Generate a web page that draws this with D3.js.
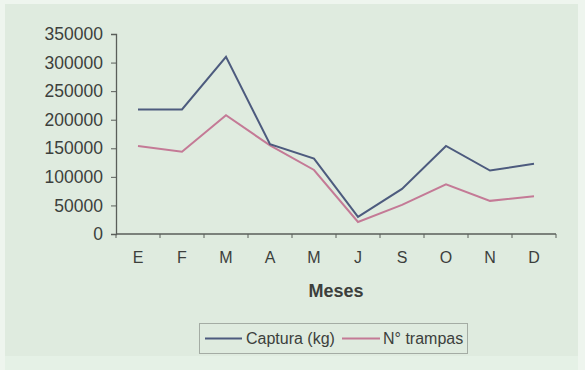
<!DOCTYPE html>
<html>
<head>
<meta charset="utf-8">
<script src="https://cdn.jsdelivr.net/npm/d3@7"></script>
<style>
  html, body { margin: 0; padding: 0; background: #eef5ee; }
  svg { display: block; }
  text { font-family: "Liberation Sans", Arial, sans-serif; fill: #3c3f3c; }
</style>
</head>
<body>
<svg id="chart" width="585" height="370"></svg>
<script>
// Monthly catch and trap counts
const months = ["E", "F", "M", "A", "M", "J", "S", "O", "N", "D"];
const captura = [218000, 218000, 310000, 157000, 132000, 30000, 79000, 154000, 111000, 123000];
const trampas = [154000, 144000, 208000, 155000, 112000, 21000, 51000, 87000, 58000, 66000];
const yTicks = [0, 50000, 100000, 150000, 200000, 250000, 300000, 350000];

const svg = d3.select("#chart");

// panel background
svg.append("rect").attr("x", 5).attr("y", 4).attr("width", 573).attr("height", 352)
  .attr("fill", "#dfebdf");
svg.append("rect").attr("x", 5).attr("y", 356).attr("width", 573).attr("height", 14)
  .attr("fill", "#e5f1e6");

const plot = { left: 116, right: 556, top: 34, bottom: 234 };

const x = d3.scaleBand().domain(d3.range(months.length))
  .range([plot.left, plot.right]);
const y = d3.scaleLinear().domain([0, 350000]).range([plot.bottom, plot.top]);

// y axis
const yAxis = svg.append("g").attr("transform", `translate(${plot.left},0)`)
  .call(d3.axisLeft(y).tickValues(yTicks).tickSize(5).tickPadding(8).tickFormat(d => String(d)));
yAxis.select(".domain").attr("stroke", "#5a5e5a").attr("stroke-width", 1.3);
yAxis.selectAll(".tick line").attr("stroke", "#5a5e5a");
yAxis.selectAll("text").attr("font-size", 17.5).attr("fill", "#3c3f3c")
  .style("font-family", "'Liberation Sans', Arial, sans-serif");

// x axis: ticks on category boundaries, labels centered in each band
const xAxisG = svg.append("g").attr("transform", `translate(0,${plot.bottom})`);
xAxisG.append("line").attr("x1", plot.left).attr("x2", plot.right)
  .attr("stroke", "#5a5e5a").attr("stroke-width", 1.3);
const bounds = d3.range(months.length + 1).map(i => i < months.length ? x(i) : plot.right);
xAxisG.selectAll(".bt").data(bounds).join("line")
  .attr("x1", d => d).attr("x2", d => d).attr("y1", 0).attr("y2", 4)
  .attr("stroke", "#5a5e5a");
xAxisG.selectAll(".lbl").data(months).join("text")
  .attr("x", (d, i) => x(i) + x.bandwidth() / 2).attr("y", 29)
  .attr("text-anchor", "middle").attr("font-size", 16).text(d => d);

svg.append("text").attr("x", (plot.left + plot.right) / 2).attr("y", 297)
  .attr("text-anchor", "middle").attr("font-size", 18).attr("font-weight", "bold")
  .text("Meses");

// series lines
const line = d3.line().x((d, i) => x(i) + x.bandwidth() / 2).y(d => y(d));
const series = [
  { name: "Captura (kg)", values: captura, color: "#4d5b7e" },
  { name: "N° trampas", values: trampas, color: "#c47a96" }
];
series.slice().reverse().forEach(s => {
  svg.append("path").datum(s.values).attr("d", line)
    .attr("fill", "none").attr("stroke", s.color).attr("stroke-width", 2)
    .attr("stroke-linejoin", "miter");
});

// legend
const lg = svg.append("g");
lg.append("rect").attr("x", 199.5).attr("y", 323.5).attr("width", 268).attr("height", 30)
  .attr("fill", "#dfebdf").attr("stroke", "#a4aca4").attr("stroke-width", 1);
const legendItems = [
  { s: series[0], x1: 205, x2: 242, tx: 246 },
  { s: series[1], x1: 342, x2: 380, tx: 383 }
];
legendItems.forEach(it => {
  lg.append("line").attr("x1", it.x1).attr("x2", it.x2).attr("y1", 338.5).attr("y2", 338.5)
    .attr("stroke", it.s.color).attr("stroke-width", 2);
  lg.append("text").attr("x", it.tx).attr("y", 344).attr("font-size", 16)
    .text(it.s.name);
});
</script>
</body>
</html>
